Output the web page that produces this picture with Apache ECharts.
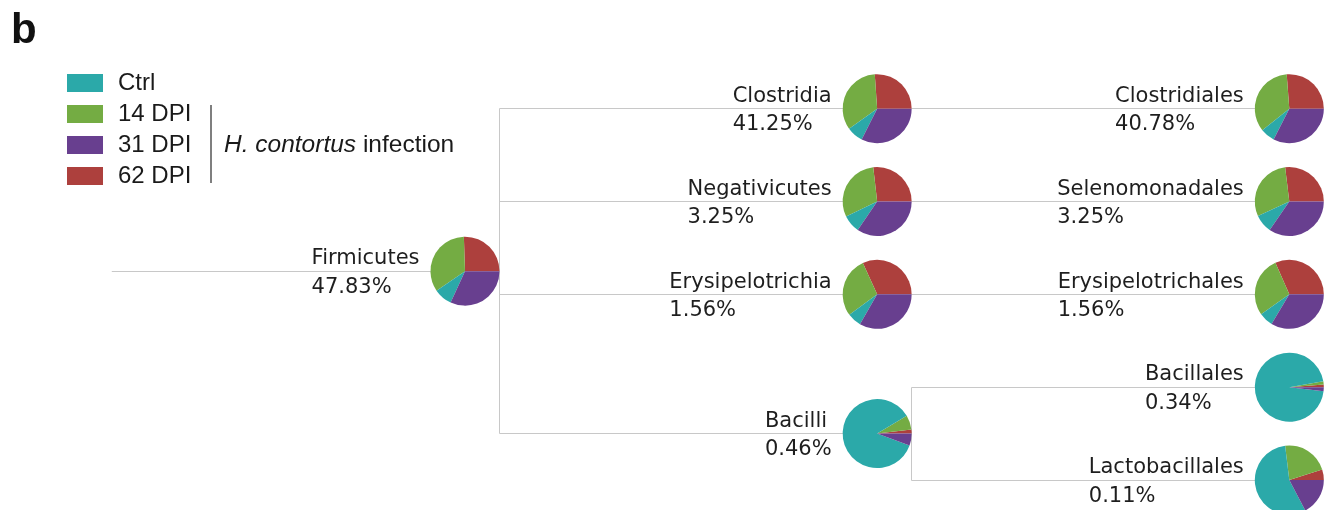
<!DOCTYPE html>
<html>
<head>
<meta charset="utf-8">
<script src="https://cdn.jsdelivr.net/npm/echarts@6/dist/echarts.min.js"></script>
<style>
  html, body { margin: 0; padding: 0; background: #fff; }
  #chart { width: 1332px; height: 510px; }
</style>
</head>
<body>
<div id="chart"></div>
<script>
// Sample groups and their colours
const groups = ['Ctrl', '14 DPI', '31 DPI', '62 DPI'];
const groupColors = ['#2ba9a9', '#74ac43', '#683f8f', '#ad403d'];

// Taxonomy tree: phylum -> classes -> orders
const taxa = ['Firmicutes', 'Clostridia', 'Negativicutes', 'Erysipelotrichia', 'Bacilli',
              'Clostridiales', 'Selenomonadales', 'Erysipelotrichales', 'Bacillales', 'Lactobacillales'];
const abundance = [47.83, 41.25, 3.25, 1.56, 0.46, 40.78, 3.25, 1.56, 0.34, 0.11];
const level  = [0, 1, 1, 1, 1, 2, 2, 2, 2, 2];
const row    = [1.75, 0, 1, 2, 3.5, 0, 1, 2, 3, 4];
const parent = [-1, 0, 0, 0, 0, 1, 2, 3, 4, 4];

// Share of each taxon per group (%)
const shareCtrl = [8.6, 7.7, 8.3, 6.6, 85.8, 6.8, 8.5, 6.6, 95.4, 55.7];
const share14   = [34.0, 33.8, 30.4, 28.3, 6.7, 34.5, 29.9, 28.2, 1.5, 22.0];
const share31   = [31.8, 32.4, 34.5, 33.3, 5.6, 32.5, 34.6, 33.6, 1.9, 17.3];
const share62   = [25.5, 26.1, 26.8, 31.8, 1.9, 26.2, 26.9, 31.6, 1.2, 4.9];
const shares = [shareCtrl, share14, share31, share62];

// Slices run anticlockwise from 3 o'clock: 62 DPI, 14 DPI, Ctrl, 31 DPI
const sliceOrder = [3, 1, 0, 2];

const R = 34.5;            // pie radius, px
const LABEL_GAP = 11;      // gap between label block and pie, px
const ROOT_START = -0.857; // left end of the root stub, in level units
const LINE_COLOR = '#c8c8c8';
const TEXT_FONT = '"DejaVu Sans", sans-serif';
const TEXT_SIZE = 21;
const SANS = '"Liberation Sans", Arial, sans-serif';

const chart = echarts.init(document.getElementById('chart'), null, { renderer: 'canvas' });

const crisp = v => Math.round(v - 0.5) + 0.5;

function renderEdge(params, api) {
  const i = api.value(2);
  const c = api.coord([level[i], row[i]]);
  let pts;
  if (parent[i] < 0) {
    const s = api.coord([ROOT_START, row[i]]);
    pts = [[s[0], crisp(c[1])], [c[0], crisp(c[1])]];
  } else {
    const p = api.coord([level[parent[i]], row[parent[i]]]);
    const bx = crisp(p[0] + R);
    pts = [[bx, crisp(p[1])], [bx, crisp(c[1])], [c[0], crisp(c[1])]];
  }
  return {
    type: 'polyline',
    shape: { points: pts },
    style: { stroke: LINE_COLOR, lineWidth: 1, fill: null },
    silent: true
  };
}

function renderLabel(params, api) {
  const i = api.value(2);
  const c = api.coord([level[i], row[i]]);
  const tok = { align: 'left', fontFamily: TEXT_FONT, fontSize: TEXT_SIZE, lineHeight: 28.5, fill: '#1e1e1e' };
  return {
    type: 'text',
    x: c[0] - R - LABEL_GAP,
    y: c[1] + 2,
    silent: true,
    style: {
      text: '{n|' + taxa[i] + '}\n{p|' + abundance[i].toFixed(2) + '%}',
      align: 'right',
      verticalAlign: 'middle',
      fill: '#1e1e1e',
      fontFamily: TEXT_FONT,
      fontSize: TEXT_SIZE,
      rich: { n: tok, p: tok }
    }
  };
}

const nodeData = taxa.map((t, i) => [level[i], row[i], i]);

function pieSeries(centers) {
  return taxa.map((t, i) => ({
    type: 'pie',
    name: t,
    radius: R,
    center: centers[i],
    startAngle: 0,
    clockwise: false,
    silent: true,
    z: 5,
    label: { show: false },
    labelLine: { show: false },
    itemStyle: { borderWidth: 0 },
    emphasis: { disabled: true },
    data: sliceOrder.map(g => ({
      name: groups[g],
      value: shares[g][i],
      itemStyle: { color: groupColors[g] }
    }))
  }));
}

const baseSeries = [
  { type: 'custom', name: 'branches', coordinateSystem: 'cartesian2d', data: nodeData,
    renderItem: renderEdge, clip: false, z: 1, silent: true },
  { type: 'custom', name: 'labels', coordinateSystem: 'cartesian2d', data: nodeData,
    renderItem: renderLabel, clip: false, z: 2, silent: true }
];

chart.setOption({
  animation: false,
  backgroundColor: '#fff',
  grid: { left: 465, right: 42.7, top: 108.7, bottom: 30 },
  xAxis: { type: 'value', min: 0, max: 2, show: false },
  yAxis: { type: 'value', min: 0, max: 4, inverse: true, show: false },
  legend: {
    data: groups,
    orient: 'vertical',
    left: 67,
    top: 71,
    padding: 0,
    itemWidth: 36,
    itemHeight: 18,
    itemGap: 7,
    icon: 'rect',
    selectedMode: false,
    textStyle: { fontFamily: SANS, fontSize: 24, color: '#1a1a1a', padding: [0, 0, 0, 10] }
  },
  graphic: [
    { type: 'text', left: 11, top: 10,
      style: { text: 'b', font: 'bold 42px "Liberation Sans", Arial, sans-serif', fill: '#111' } },
    { type: 'line', shape: { x1: 211, y1: 105, x2: 211, y2: 183 },
      style: { stroke: '#555', lineWidth: 1.5 } },
    { type: 'text', x: 224, y: 145,
      style: {
        text: '{i|H. contortus} infection',
        fontFamily: SANS, fontSize: 24.5, fill: '#1a1a1a',
        verticalAlign: 'middle',
        rich: { i: { fontStyle: 'italic', fontFamily: SANS, fontSize: 24.5, fill: '#1a1a1a' } }
      } }
  ],
  series: baseSeries.concat(pieSeries(taxa.map(() => [0, 0])))
});

const centers = taxa.map((t, i) => chart.convertToPixel({ gridIndex: 0 }, [level[i], row[i]]));
chart.setOption({ series: baseSeries.concat(pieSeries(centers)) });
</script>
</body>
</html>
